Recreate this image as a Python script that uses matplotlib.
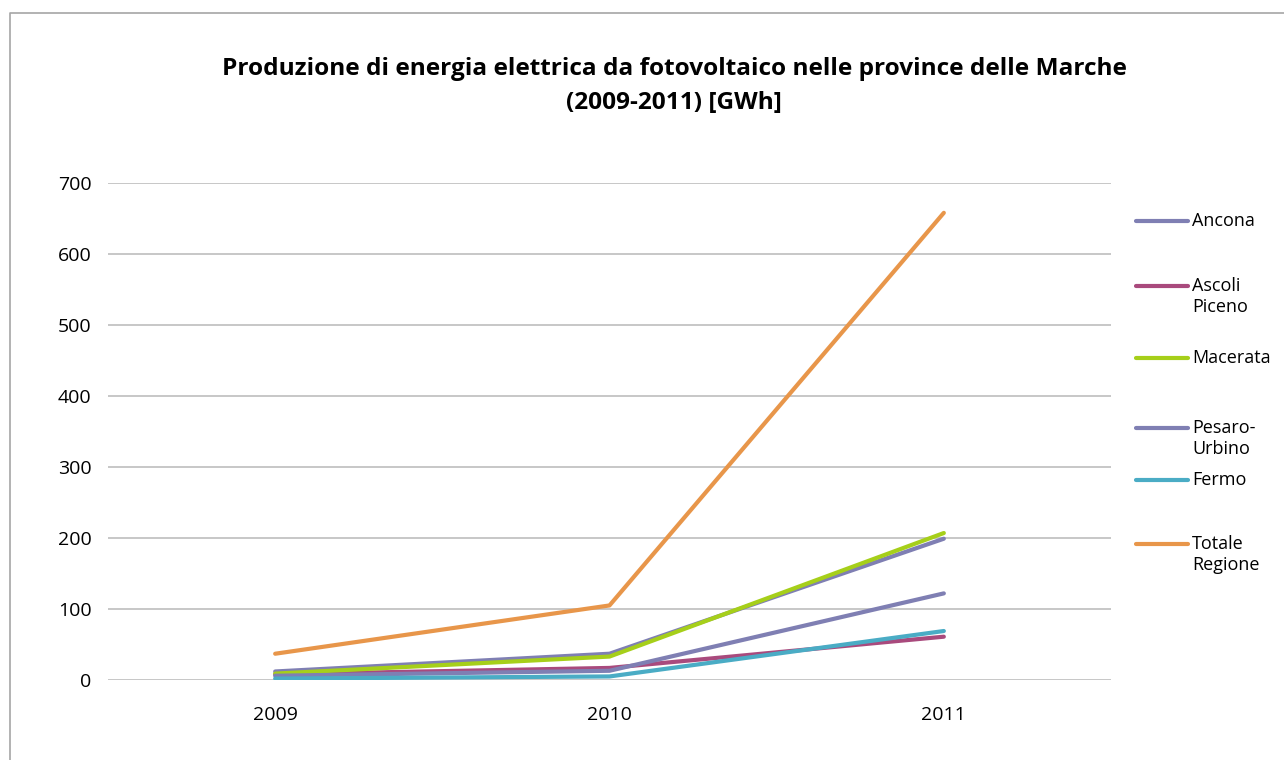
import matplotlib
matplotlib.use("Agg")
import matplotlib.pyplot as plt
from matplotlib.lines import Line2D

plt.rcParams['font.family'] = ['Open Sans', 'DejaVu Sans']

# produzione fotovoltaico per provincia [GWh]
anni = ['2009', '2010', '2011']
ancona = [12, 37, 199]
ascoli_piceno = [8, 17, 61]
macerata = [9, 33, 207]
pesaro_urbino = [6, 13, 122]
fermo = [2, 5, 69]
totale_regione = [37, 105, 658]

serie = [
    ('Ancona', ancona, '#7f7fb3'),
    ('Ascoli\nPiceno', ascoli_piceno, '#a94a7d'),
    ('Macerata', macerata, '#a6cf1a'),
    ('Pesaro-\nUrbino', pesaro_urbino, '#7f7fb3'),
    ('Fermo', fermo, '#4aacc5'),
    ('Totale\nRegione', totale_regione, '#e8964a'),
]

W, H = 1284, 760
fig = plt.figure(figsize=(W / 100, H / 100), dpi=100)
ax = fig.add_axes([108 / W, 1 - 680 / H, (1111 - 108) / W, (680 - 183) / H])

x = list(range(len(anni)))
for nome, valori, colore in serie:
    ax.plot(x, valori, color=colore, lw=3.0, solid_capstyle='round',
            solid_joinstyle='round')

ax.set_xlim(-0.5, len(anni) - 0.5)
ax.set_ylim(0, 700)
ax.set_yticks(range(0, 701, 100))
ax.set_xticks(x)
ax.set_xticklabels(anni)
ax.tick_params(axis='both', length=0, labelsize=14, colors='black')
ax.tick_params(axis='y', pad=12)
ax.tick_params(axis='x', pad=19)
ax.grid(axis='y', color='#bdbdbd', lw=1.2)
ax.set_axisbelow(True)
for s in ax.spines.values():
    s.set_visible(False)

fig.text(674 / W, 1 - 69 / H,
         'Produzione di energia elettrica da fotovoltaico nelle province delle Marche',
         ha='center', va='center', fontsize=17.6, fontweight='bold')
fig.text(674 / W, 1 - 103 / H, '(2009-2011) [GWh]',
         ha='center', va='center', fontsize=17.6, fontweight='bold')

# legenda a destra
leg_y = [221, 286, 358, 428, 480, 544]
for (nome, valori, colore), yy in zip(serie, leg_y):
    fig.add_artist(Line2D([1136 / W, 1188 / W], [1 - yy / H, 1 - yy / H],
                          color=colore, lw=3.0, solid_capstyle='round'))
    fig.text(1192 / W, 1 - (yy - 9) / H, nome, ha='left', va='top',
             fontsize=13, linespacing=1.25)

# cornice del grafico
fig.add_artist(Line2D([10 / W, 10 / W, 1], [0, 1 - 13 / H, 1 - 13 / H],
                      color='#a6a6a6', lw=1.2))

fig.savefig('out.png', dpi=100)
